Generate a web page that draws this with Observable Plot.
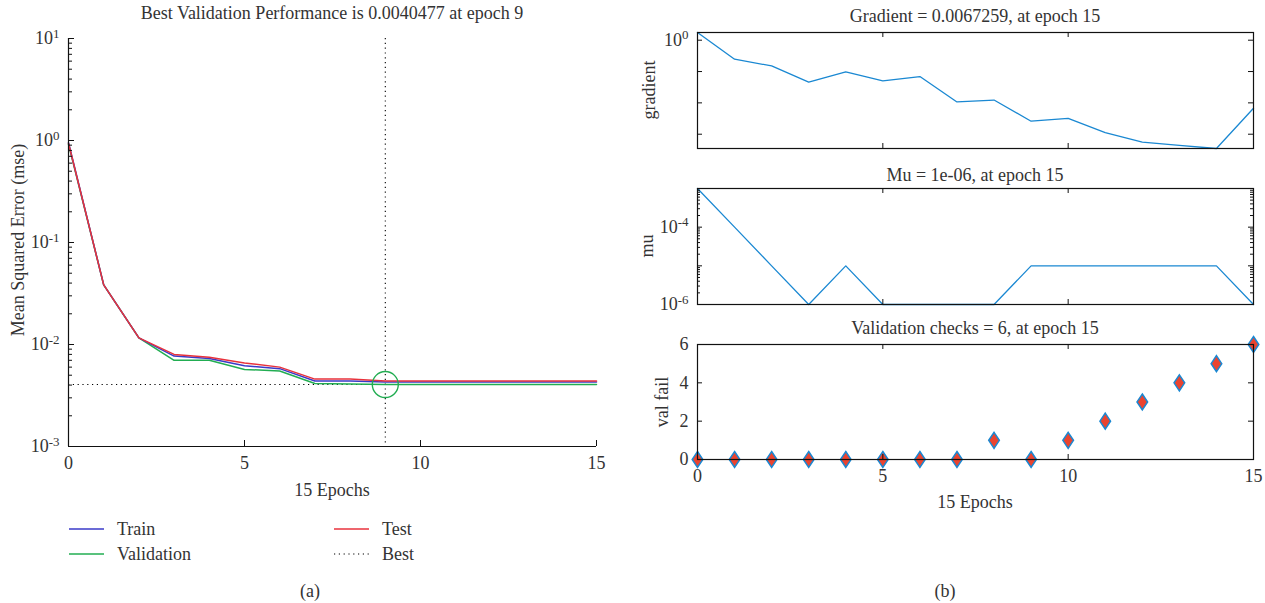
<!DOCTYPE html>
<html>
<head>
<meta charset="utf-8">
<script src="https://cdn.jsdelivr.net/npm/d3@7"></script>
<script src="https://cdn.jsdelivr.net/npm/@observablehq/plot@0.6"></script>
<style>
  html, body { margin: 0; padding: 0; background: #fff; }
  #root { position: relative; width: 1265px; height: 603px; overflow: hidden; background: #fff;
          font-family: "Liberation Serif", "DejaVu Serif", serif; color: #333; }
  .lbl { position: absolute; white-space: nowrap; transform: translate(-50%, -50%); font-size: 18px; color: #333; line-height: 1; }
  .rot { transform: translate(-50%, -50%) rotate(-90deg); }
  .leg { position: absolute; display: flex; align-items: center; font-size: 18px; color: #333; line-height: 1; }
  .leg svg { margin-right: 13px; }
</style>
</head>
<body>
<div id="root"></div>
<script>
// ---------- data ----------
const epochs = [0, 1, 2, 3, 4, 5, 6, 7, 8, 9, 10, 11, 12, 13, 14, 15];
const trainMse = [0.95, 0.0384, 0.0116, 0.0077, 0.0073, 0.0062, 0.0058, 0.00438, 0.00438, 0.00428, 0.00428, 0.00428, 0.00428, 0.00428, 0.00428, 0.00428];
const validationMse = [0.92, 0.0384, 0.0116, 0.0070, 0.0070, 0.0057, 0.0055, 0.00415, 0.00410, 0.0040477, 0.0040477, 0.0040477, 0.0040477, 0.0040477, 0.0040477, 0.0040477];
const testMse = [0.94, 0.0384, 0.0116, 0.0080, 0.0075, 0.0066, 0.0060, 0.00458, 0.00458, 0.00438, 0.00438, 0.00438, 0.00438, 0.00438, 0.00438, 0.00438];
const bestEpoch = 9;
const bestPerf = 0.0040477;
const seriesNames = ["Train", "Validation", "Test", "Best"];
const gradient = [1.76, 0.247, 0.151, 0.0457, 0.0975, 0.050, 0.069, 0.0107, 0.0123, 0.0026, 0.0032, 0.00113, 0.00056, 0.00044, 0.00035, 0.0067259];
const mu = [1e-3, 1e-4, 1e-5, 1e-6, 1e-5, 1e-6, 1e-6, 1e-6, 1e-6, 1e-5, 1e-5, 1e-5, 1e-5, 1e-5, 1e-5, 1e-6];
const valFail = [0, 0, 0, 0, 0, 0, 0, 0, 1, 0, 1, 2, 3, 4, 5, 6];
const xTickLabels = [0, 5, 10, 15];
const mseTicks = [1e-3, 1e-2, 1e-1, 1e0, 1e1];
const gradTicks = [1e-3, 1e-2, 1e-1, 1e0];
const gradTickLabels = [1e0];
const muTicks = [1e-6, 1e-5, 1e-4, 1e-3];
const muTickLabels = [1e-6, 1e-4];
const valFailTicks = [0, 2, 4, 6];

// ---------- styles ----------
const C = { train: "#3a3ac8", val: "#22ad52", test: "#e8323c", blue: "#1a88d2", red: "#ea4430", ink: "#333", axis: "#111" };
const FONT = "Liberation Serif";
const root = document.getElementById("root");

function minorTicks(lo, hi) {
  const out = [];
  for (let e = Math.round(Math.log10(lo)); e < Math.round(Math.log10(hi)); e++)
    for (let m = 2; m <= 9; m++) out.push(m * Math.pow(10, e));
  return out;
}
const pow10Fmt = d => "10^" + Math.round(Math.log10(d));

function supify(svg) {
  const NS = "http://www.w3.org/2000/svg";
  svg.querySelectorAll("text").forEach(t => {
    const s = t.textContent, i = s.indexOf("^");
    if (i < 0) return;
    t.textContent = "";
    const a = document.createElementNS(NS, "tspan"); a.textContent = s.slice(0, i);
    const b = document.createElementNS(NS, "tspan"); b.textContent = s.slice(i + 1);
    b.setAttribute("dy", "-0.5em"); b.setAttribute("font-size", "0.72em");
    t.append(a, b);
  });
}
function place(svg, left, top) {
  svg.style.position = "absolute";
  svg.style.left = left + "px";
  svg.style.top = top + "px";
  supify(svg);
  root.appendChild(svg);
}
function label(text, x, y, cls = "") {
  const d = document.createElement("div");
  d.className = "lbl " + cls;
  d.style.left = x + "px"; d.style.top = y + "px";
  d.textContent = text;
  root.appendChild(d);
}
const baseStyle = { fontFamily: FONT, fontSize: "18px", color: C.ink, background: "transparent", overflow: "visible" };

// ---------- (a) performance ----------
{
  const W = 620, H = 510, ml = 68, mr = 24, mt = 38, mb = 64;
  const pw = W - ml - mr, ph = H - mt - mb;
  const rows = (vals, name) => epochs.map((e, i) => ({ epoch: e, value: vals[i], series: name }));
  const svg = Plot.plot({
    width: W, height: H, marginLeft: ml, marginRight: mr, marginTop: mt, marginBottom: mb,
    style: baseStyle,
    x: { domain: [0, 15] },
    y: { type: "log", domain: [1e-3, 1e1] },
    marks: [
      Plot.ruleY([bestPerf], { stroke: "#000", strokeWidth: 1.1, strokeDasharray: "1.2,3.6" }),
      Plot.ruleX([bestEpoch], { stroke: "#000", strokeWidth: 1.1, strokeDasharray: "1.2,3.6" }),
      Plot.line(rows(validationMse, "Validation"), { x: "epoch", y: "value", stroke: C.val, strokeWidth: 1.5 }),
      Plot.line(rows(trainMse, "Train"), { x: "epoch", y: "value", stroke: C.train, strokeWidth: 1.5 }),
      Plot.line(rows(testMse, "Test"), { x: "epoch", y: "value", stroke: C.test, strokeWidth: 1.5 }),
      Plot.dot([{ epoch: bestEpoch, value: bestPerf }], { x: "epoch", y: "value", r: 13, stroke: C.val, strokeWidth: 1.4, fill: "none" }),
      Plot.ruleX([0], { stroke: C.axis, strokeWidth: 1.2 }),
      Plot.ruleY([1e-3], { stroke: C.axis, strokeWidth: 1.2 }),
      Plot.tickY(mseTicks, { y: d => d, insetRight: pw - 6, stroke: C.axis }),
      Plot.tickY(minorTicks(1e-3, 1e1), { y: d => d, insetRight: pw - 4, stroke: C.axis }),
      Plot.tickX(xTickLabels, { x: d => d, insetTop: ph - 6, stroke: C.axis }),
      Plot.axisY({ ticks: mseTicks, tickSize: 0, tickPadding: 9, tickFormat: pow10Fmt, label: null }),
      Plot.axisX({ ticks: xTickLabels, tickSize: 0, tickPadding: 10, tickFormat: d => String(d), label: null })
    ]
  });
  place(svg, 0, 0);
  label("Best Validation Performance is 0.0040477 at epoch 9", 332, 13);
  label("Mean Squared Error (mse)", 18, 240, "rot");
  label("15 Epochs", 332, 490);

  // legend
  const legItems = [
    { name: seriesNames[0], color: C.train, dash: null, x: 69, y: 529 },
    { name: seriesNames[1], color: C.val, dash: null, x: 69, y: 554 },
    { name: seriesNames[2], color: C.test, dash: null, x: 334, y: 529 },
    { name: seriesNames[3], color: "#000", dash: "1.2,3.6", x: 334, y: 554 }
  ];
  for (const it of legItems) {
    const d = document.createElement("div");
    d.className = "leg";
    d.style.left = it.x + "px"; d.style.top = (it.y - 10) + "px"; d.style.height = "20px";
    d.innerHTML = `<svg width="35" height="4"><line x1="0" x2="35" y1="2" y2="2" stroke="${it.color}" stroke-opacity="${it.dash ? 1 : 0.75}" stroke-width="${it.dash ? 1.1 : 2.2}" ${it.dash ? `stroke-dasharray="${it.dash}"` : ""}/></svg><span>${it.name}</span>`;
    root.appendChild(d);
  }
  label("(a)", 310, 591);
}

// ---------- (b) training state ----------
const RX = 620, RW = 645, rml = 77, rmr = 12;
const rpw = RW - rml - rmr;
function panel({ top, H, mt, mb, y, marks, ticks, minors = [], tickLabels, tickFormat, showX }) {
  const ph = H - mt - mb;
  const svg = Plot.plot({
    width: RW, height: H, marginLeft: rml, marginRight: rmr, marginTop: mt, marginBottom: mb,
    style: baseStyle,
    x: { domain: [0, 15] },
    y,
    marks: [
      ...marks,
      Plot.frame({ stroke: C.axis, strokeWidth: 1.2 }),
      Plot.tickY(ticks, { y: d => d, insetRight: rpw - 5, stroke: C.axis }),
      Plot.tickY(ticks, { y: d => d, insetLeft: rpw - 5, stroke: C.axis }),
      Plot.tickY(minors, { y: d => d, insetRight: rpw - 3, stroke: C.axis }),
      Plot.tickY(minors, { y: d => d, insetLeft: rpw - 3, stroke: C.axis }),
      Plot.tickX(xTickLabels, { x: d => d, insetTop: ph - 5, stroke: C.axis }),
      Plot.tickX(xTickLabels, { x: d => d, insetBottom: ph - 5, stroke: C.axis }),
      Plot.axisY({ ticks: tickLabels, tickSize: 0, tickPadding: 9, tickFormat, label: null }),
      showX ? Plot.axisX({ ticks: xTickLabels, tickSize: 0, tickPadding: 10, tickFormat: d => String(d), label: null })
            : Plot.axisX({ ticks: [], label: null })
    ]
  });
  place(svg, RX, top);
}
const rcx = RX + rml + rpw / 2;

panel({
  top: 0, H: 160, mt: 32, mb: 12,
  y: { type: "log", domain: [d3.min(gradient), d3.max(gradient)] },
  marks: [Plot.line(epochs, { x: d => d, y: (d, i) => gradient[i], stroke: C.blue, strokeWidth: 1.3 })],
  ticks: gradTicks, tickLabels: gradTickLabels, tickFormat: pow10Fmt, showX: false
});
label("Gradient = 0.0067259, at epoch 15", rcx, 16);
label("gradient", 649, 90, "rot");

panel({
  top: 160, H: 160, mt: 28, mb: 16,
  y: { type: "log", domain: [1e-6, 1e-3] },
  marks: [Plot.line(epochs, { x: d => d, y: (d, i) => mu[i], stroke: C.blue, strokeWidth: 1.3 })],
  ticks: muTicks, minors: minorTicks(1e-6, 1e-3), tickLabels: muTickLabels, tickFormat: pow10Fmt, showX: false
});
label("Mu = 1e-06, at epoch 15", rcx, 175);
label("mu", 647, 246, "rot");

const tallDiamond = {
  draw(ctx, size) {
    const s = Math.sqrt(size), h = s * 0.9, w = s * 0.6;
    ctx.moveTo(0, -h); ctx.lineTo(w, 0); ctx.lineTo(0, h); ctx.lineTo(-w, 0); ctx.closePath();
  }
};
panel({
  top: 320, H: 200, mt: 24, mb: 61,
  y: { domain: [0, 6] },
  marks: [Plot.dot(epochs, { x: d => d, y: (d, i) => valFail[i], r: 5, symbol: tallDiamond, fill: C.red, stroke: C.blue, strokeWidth: 1.5 })],
  ticks: valFailTicks, tickLabels: valFailTicks, tickFormat: d => String(d), showX: true
});
label("Validation checks = 6, at epoch 15", rcx, 328);
label("val fail", 662, 402, "rot");
label("15 Epochs", rcx, 502);
label("(b)", 945, 591);
</script>
</body>
</html>
